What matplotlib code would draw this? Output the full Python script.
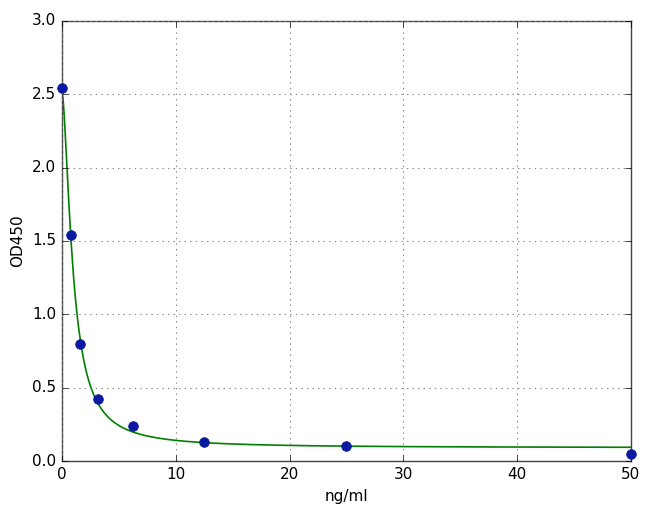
import numpy as np
import matplotlib
matplotlib.use('Agg')
import matplotlib.pyplot as plt

# standardipisteet
conc = [0, 0.78, 1.56, 3.125, 6.25, 12.5, 25, 50]
od = [2.54, 1.54, 0.80, 0.42, 0.24, 0.13, 0.105, 0.05]

# 4PL sovitteen parametrit (arvioitu kuvasta)
A_top = 2.52
D_bot = 0.09
C_mid = 0.97
B_slope = 1.65

xs = np.linspace(0, 50, 500)
ys = D_bot + (A_top - D_bot) / (1 + (xs / C_mid) ** B_slope)

plt.style.use('classic')
fig = plt.figure(figsize=(6.49, 5.07), dpi=100, facecolor='white')
ax = fig.add_axes([0.0955, 0.0907, 0.8765, 0.868])

ax.plot(xs, ys, 'g-', lw=1.2)
ax.plot(conc, od, 'o', color='#0a1aa0', mec='#0a1aa0', ms=7, clip_on=False, zorder=5)

ax.set_xlim(0, 50)
ax.set_ylim(0, 3.0)
ax.set_xticks([0, 10, 20, 30, 40, 50])
ax.set_yticks(np.arange(0, 3.01, 0.5))
ax.grid(True, color='#888888', linestyle=':', linewidth=0.8)
ax.set_xlabel('ng/ml', fontsize=11)
ax.set_ylabel('OD450', fontsize=11)
ax.tick_params(labelsize=11)
for s in ax.spines.values():
    s.set_color('#444444')

fig.savefig('out.png', dpi=100, facecolor='white')
